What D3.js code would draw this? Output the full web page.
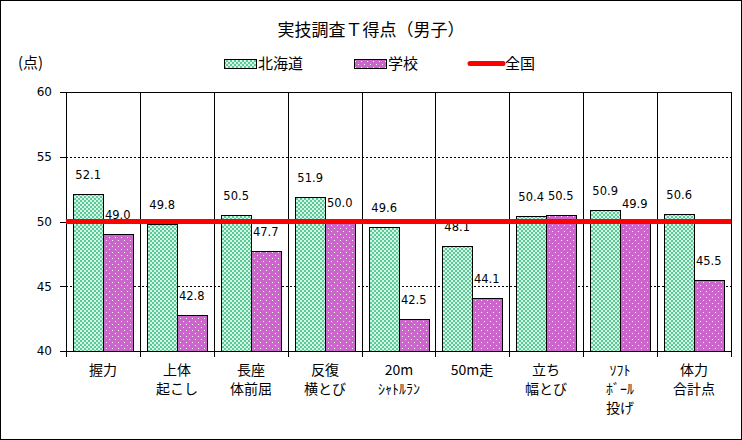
<!DOCTYPE html>
<html>
<head>
<meta charset="utf-8">
<script src="https://cdn.jsdelivr.net/npm/d3@7"></script>
<style>
  body { margin: 0; background: #fff; }
  text { fill: #000; }
  .jp { font-family: "Noto Sans CJK JP", sans-serif; }
  .num { font-family: "DejaVu Sans", Verdana, sans-serif; }
</style>
</head>
<body>
<div id="chart"></div>
<script>
// 実技調査T得点（男子）: 北海道 / 学校 の棒 + 全国平均(50)の線

const CATEGORIES = [
  ["握力"], ["上体", "起こし"], ["長座", "体前屈"], ["反復", "横とび"],
  ["20m", "ｼｬﾄﾙﾗﾝ"], ["50m走"], ["立ち", "幅とび"], ["ｿﾌﾄ", "ﾎﾞｰﾙ", "投げ"], ["体力", "合計点"]
];
const HOKKAIDO = [52.1, 49.8, 50.5, 51.9, 49.6, 48.1, 50.4, 50.9, 50.6];
const SCHOOL = [49.0, 42.8, 47.7, 50.0, 42.5, 44.1, 50.5, 49.9, 45.5];
const NATIONAL = 50;
const SERIES = ["北海道", "学校"];
const Y_TICKS = [40, 45, 50, 55, 60];

const W = 742, H = 440;
const margin = { top: 92, right: 11, bottom: 89, left: 66 };
const innerW = W - margin.left - margin.right;
const innerH = H - margin.top - margin.bottom;

const svg = d3.select("#chart").append("svg")
  .attr("width", W).attr("height", H)
  .attr("shape-rendering", "crispEdges");

// --- Muster (4px-Raster, damit beim Skalieren kein Moiré entsteht) ---
const defs = svg.append("defs");
const pGreen = defs.append("pattern").attr("id", "pat-green")
  .attr("patternUnits", "userSpaceOnUse").attr("width", 4).attr("height", 4);
pGreen.append("rect").attr("width", 4).attr("height", 4).attr("fill", "#5cc99a");
pGreen.append("rect").attr("x", 0).attr("y", 0).attr("width", 2).attr("height", 2).attr("fill", "#d4f5e4");
pGreen.append("rect").attr("x", 2).attr("y", 2).attr("width", 2).attr("height", 2).attr("fill", "#d4f5e4");

const pPurple = defs.append("pattern").attr("id", "pat-purple")
  .attr("patternUnits", "userSpaceOnUse").attr("width", 6).attr("height", 6);
pPurple.append("rect").attr("width", 6).attr("height", 6).attr("fill", "#cc66cc");
pPurple.append("rect").attr("x", 1).attr("y", 1).attr("width", 1).attr("height", 1).attr("fill", "#fff");
pPurple.append("rect").attr("x", 4).attr("y", 4).attr("width", 1).attr("height", 1).attr("fill", "#fff");

const FILLS = ["url(#pat-green)", "url(#pat-purple)"];

// Rahmen
svg.append("rect").attr("x", 0.5).attr("y", 0.5).attr("width", W - 1).attr("height", H - 1)
  .attr("fill", "#fff").attr("stroke", "#000");

// Titel
svg.append("text").attr("class", "jp")
  .attr("x", W / 2).attr("y", 36).attr("text-anchor", "middle")
  .style("font-size", "17px").text("実技調査Ｔ得点（男子）");

svg.append("text").attr("class", "jp")
  .attr("x", 18).attr("y", 68).style("font-size", "15px").text("(点)");

// Legende
const legend = svg.append("g").attr("class", "legend");
const legX = [224, 354, 470];
SERIES.forEach((name, i) => {
  legend.append("rect").attr("x", legX[i] + 0.5).attr("y", 59.5).attr("width", 32).attr("height", 9)
    .attr("fill", FILLS[i]).attr("stroke", "#000");
  legend.append("text").attr("class", "jp").attr("x", legX[i] + 34).attr("y", 69)
    .style("font-size", "15px").text(name);
});
legend.append("line").attr("x1", legX[2]).attr("x2", legX[2] + 33)
  .attr("y1", 63.5).attr("y2", 63.5).attr("stroke", "#ff0000").attr("stroke-width", 5)
  .attr("stroke-linecap", "round").attr("shape-rendering", "auto");
legend.append("text").attr("class", "jp").attr("x", legX[2] + 35).attr("y", 69)
  .style("font-size", "15px").text("全国");

// --- Skalen ---
const keys = CATEGORIES.map(c => c.join(""));
const x0 = d3.scaleBand().domain(keys).range([0, innerW]).padding(0);
const x1 = d3.scaleBand().domain(SERIES).range([0, x0.bandwidth()])
  .paddingInner(0).paddingOuter(0.25);
const y = d3.scaleLinear().domain([40, 60]).range([innerH, 0]);

const g = svg.append("g").attr("transform", `translate(${margin.left},${margin.top})`);

// Gitter (gestrichelt)
g.append("g").selectAll("line")
  .data(Y_TICKS.filter(t => t > 40 && t < 60))
  .join("line")
  .attr("x1", 0).attr("x2", innerW)
  .attr("y1", d => Math.round(y(d)) + 0.5).attr("y2", d => Math.round(y(d)) + 0.5)
  .attr("stroke", "#000").attr("stroke-dasharray", "2,2").attr("stroke-width", 1);

// Kategoriegrenzen
g.append("g").selectAll("line")
  .data(keys.concat(["__end"]))
  .join("line")
  .attr("x1", (d, i) => Math.round(i * x0.step()) + 0.5)
  .attr("x2", (d, i) => Math.round(i * x0.step()) + 0.5)
  .attr("y1", 0).attr("y2", innerH + 6)
  .attr("stroke", "#000");

// obere Linie
g.append("line").attr("x1", 0).attr("x2", innerW).attr("y1", 0.5).attr("y2", 0.5).attr("stroke", "#000");

// Y-Achse
const yAxis = g.append("g").attr("class", "num")
  .call(d3.axisLeft(y).tickValues(Y_TICKS).tickSize(6).tickPadding(8));
yAxis.select(".domain").remove();
yAxis.selectAll("text").style("font-size", "12px").attr("fill", "#000").style("font-family", "DejaVu Sans, Verdana, sans-serif");
yAxis.selectAll("line").attr("stroke", "#000");

// X-Achse Basislinie
g.append("line").attr("x1", 0).attr("x2", innerW).attr("y1", innerH + 0.5).attr("y2", innerH + 0.5)
  .attr("stroke", "#000");

// Balken (auf ganze Pixel gerundet)
const groups = g.append("g").selectAll("g")
  .data(keys)
  .join("g")
  .attr("transform", d => `translate(${Math.round(x0(d))},0)`);

const barData = (k, i) => [
  { s: SERIES[0], v: HOKKAIDO[i] },
  { s: SERIES[1], v: SCHOOL[i] }
];

groups.selectAll("rect")
  .data(barData)
  .join("rect")
  .attr("x", d => Math.round(x1(d.s)) + 0.5)
  .attr("width", Math.round(x1.bandwidth()))
  .attr("y", d => Math.round(y(d.v)) + 0.5)
  .attr("height", d => innerH - Math.round(y(d.v)))
  .attr("fill", (d, j) => FILLS[j])
  .attr("stroke", "#000").attr("stroke-width", 1);

// Wertelabels
groups.selectAll("text.val")
  .data(barData)
  .join("text")
  .attr("class", "val num")
  .attr("x", d => x1(d.s) + x1.bandwidth() / 2)
  .attr("y", d => y(d.v) - 15)
  .attr("text-anchor", "middle")
  .style("font-size", "11.5px")
  .text(d => d.v.toFixed(1));

// Landesdurchschnitt
g.append("line")
  .attr("x1", 0).attr("x2", innerW)
  .attr("y1", y(NATIONAL)).attr("y2", y(NATIONAL))
  .attr("stroke", "#ff0000").attr("stroke-width", 5);

// Kategorienamen
groups.each(function (k, i) {
  const t = d3.select(this).append("text").attr("class", "jp")
    .attr("text-anchor", "middle").style("font-size", "14px");
  CATEGORIES[i].forEach((line, j) => {
    t.append("tspan").attr("x", x0.bandwidth() / 2)
      .attr("y", innerH + 24 + j * 19)
      .text(line);
  });
});
</script>
</body>
</html>
